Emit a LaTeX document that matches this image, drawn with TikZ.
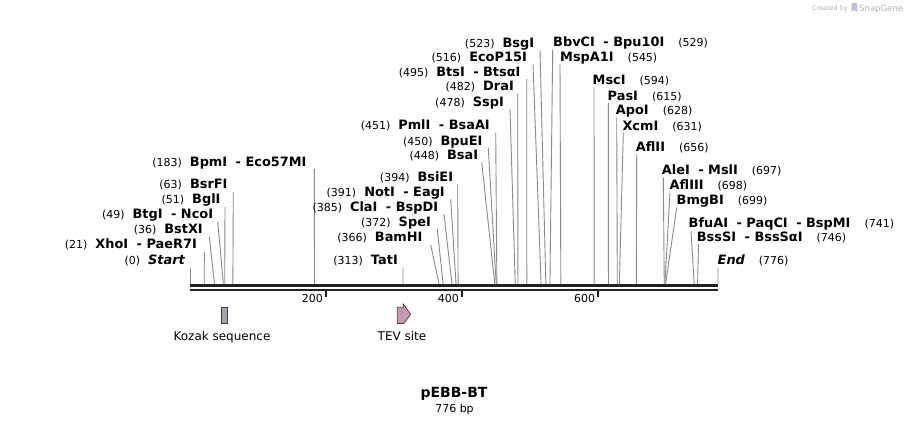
\documentclass[tikz,border=0pt]{standalone}
\usepackage{fontspec}
\setmainfont{DejaVu Sans}
\definecolor{conn}{HTML}{8A8A8A}
\definecolor{seq}{HTML}{222222}
\definecolor{kozak}{HTML}{A1A6AE}
\definecolor{tev}{HTML}{C996B4}
\definecolor{credit}{HTML}{B4B4B4}
\tikzset{
  lab/.style={inner sep=0pt, font=\fontsize{11}{13}\selectfont},
  cline/.style={draw=conn, line width=0.9pt},
  featlab/.style={inner sep=0pt, font=\fontsize{12}{14}\selectfont},
  ticklab/.style={inner sep=0pt, font=\fontsize{11}{13}\selectfont, anchor=base east},
}
\newcommand\nm[1]{{\fontsize{12.9}{14}\selectfont\bfseries #1}}
\newcommand\dsh{\hspace{8.5pt}-\hspace{4.5pt}}
% id, bp, row y, label end x, top x, num, name
\newcommand\Ls[7]{%
  \coordinate (#1-s) at ({190+#2*0.68041},284);
  \coordinate (#1-t) at (#5,{#3+7.5});
  \node[lab,anchor=base east] (#1) at (#4,{#3+4.3}) {(#6)\hspace{8pt}\nm{#7}};
  \draw[cline] (#1-t) -- (#1-s);
}
% id, bp, row y, label start x, top x, num, name
\newcommand\Rs[7]{%
  \coordinate (#1-s) at ({190+#2*0.68041},284);
  \coordinate (#1-t) at (#5,{#3+7.5});
  \node[lab,anchor=base west] (#1) at (#4,{#3+4.3}) {\nm{#7}\hspace{14pt}(#6)};
  \draw[cline] (#1-t) -- (#1-s);
}
\begin{document}
\begin{tikzpicture}[x=1pt,y=-1pt]
\useasboundingbox (0,0) rectangle (909,423);
\fill[white] (0,0) rectangle (909,423);

% sequence
\coordinate (seqA) at (190,285.5);
\coordinate (seqB) at (718,285.5);
\coordinate (seqC) at (190,289.5);
\coordinate (seqD) at (718,289.5);
\draw[seq, line width=3pt] (seqA) -- (seqB);
\draw[seq, line width=2pt] (seqC) -- (seqD);

% ticks
\foreach \p/\t in {200/t200,400/t400,600/t600}{
  \coordinate (\t) at ({190+\p*0.68041},290.5);
  \draw[seq, line width=1.8pt] (\t) -- ++(0,6.5);
  \node[ticklab] (\t-l) at ({190+\p*0.68041-3},302.5) {\p};
}

% left-hand labels
\Ls{start}{0}{260}{185}{190}{0}{\itshape Start}
\Ls{xho}{21}{244.5}{197}{204.3}{21}{XhoI\dsh PaeR7I}
\Ls{bstx}{36}{229.3}{203}{209.3}{36}{BstXI}
\Ls{btg}{49}{214}{213.3}{217.7}{49}{BtgI\dsh NcoI}
\Ls{bgl}{51}{199.3}{220.7}{225}{51}{BglI}
\Ls{bsrf}{63}{184.3}{227.7}{233.3}{63}{BsrFI}
\Ls{bpm}{183}{161.7}{306.7}{314.3}{183}{BpmI\dsh Eco57MI}
\Ls{tat}{313}{260}{398}{403}{313}{TatI}
\Ls{bam}{366}{237.3}{422.7}{430.7}{366}{BamHI}
\Ls{spe}{372}{221.7}{431}{437.3}{372}{SpeI}
\Ls{cla}{385}{206.7}{438.3}{444}{385}{ClaI\dsh BspDI}
\Ls{not}{391}{191.7}{445}{450.7}{391}{NotI\dsh EagI}
\Ls{bsie}{394}{176.7}{453.3}{457.7}{394}{BsiEI}
\Ls{bsa}{448}{155}{478.3}{481.7}{448}{BsaI}
\Ls{bpue}{450}{140.7}{482.7}{488.3}{450}{BpuEI}
\Ls{pml}{451}{125}{490}{495.7}{451}{PmlI\dsh BsaAI}
\Ls{ssp}{478}{101.7}{504}{510}{478}{SspI}
\Ls{dra}{482}{86}{514}{517.7}{482}{DraI}
\Ls{bts}{495}{71.7}{520.7}{526.7}{495}{BtsI\dsh BtsαI}
\Ls{eco}{516}{56.7}{527}{533}{516}{EcoP15I}
\Ls{bsg}{523}{42.7}{534.3}{540}{523}{BsgI}

% right-hand labels
\Rs{bbv}{529}{42}{553}{552.7}{529}{BbvCI\dsh Bpu10I}
\Rs{msp}{545}{56.7}{560}{560}{545}{MspA1I}
\Rs{msc}{594}{80}{592.5}{594}{594}{MscI}
\Rs{pas}{615}{95.7}{607.5}{608.3}{615}{PasI}
\Rs{apo}{628}{110}{615.7}{616.7}{628}{ApoI}
\Rs{xcm}{631}{125.7}{622.3}{623.3}{631}{XcmI}
\Rs{afl2}{656}{146.7}{635.7}{636.7}{656}{AflII}
\Rs{ale}{697}{170}{661.7}{663.3}{697}{AleI\dsh MslI}
\Rs{afl3}{698}{185}{669.5}{670}{698}{AflIII}
\Rs{bmg}{699}{200}{676.5}{676.7}{699}{BmgBI}
\Rs{bfu}{741}{223.3}{688.5}{691}{741}{BfuAI\dsh PaqCI\dsh BspMI}
\Rs{bss}{746}{236.7}{696.7}{698.5}{746}{BssSI\dsh BssSαI}
\Rs{end}{776}{260}{717.5}{718}{776}{\itshape End}

% features
\node[draw=black!75, fill=kozak, line width=0.7pt, minimum width=6.3pt, minimum height=16pt, inner sep=0pt] (kozak) at (224.2,315.3) {};
\node[featlab, anchor=base] (kozak-l) at (222,340.5) {Kozak sequence};
\filldraw[draw=black!75, fill=tev, line width=0.7pt]
  (397.3,307.3) -- (403.3,307.3) -- (403.3,304) -- (410.7,314.3) -- (403.8,323.5) -- (397.3,323.5) -- cycle;
\coordinate (tev) at (404,315);
\node[featlab, anchor=base] (tev-l) at (402,340.5) {TEV site};

% title
\node[inner sep=0pt, font=\fontsize{14}{16}\selectfont\bfseries, anchor=base] (title) at (454,397) {pEBB-BT};
\node[inner sep=0pt, font=\fontsize{11}{13}\selectfont, anchor=base] (size) at (454.5,412) {776 bp};

% credit
\node[inner sep=0pt, anchor=base east, text=credit, font=\fontsize{6.5}{8}\selectfont] (cr1) at (848,10.5) {Created by};
\fill[credit!80!blue!60] (851.5,3) -- (857,3) -- (857,12) -- (854,10) -- (851.5,12) -- cycle;
\node[inner sep=0pt, anchor=base west, text=credit, font=\fontsize{8.5}{10}\selectfont] (cr2) at (859,11) {SnapGene};
\end{tikzpicture}
\end{document}
